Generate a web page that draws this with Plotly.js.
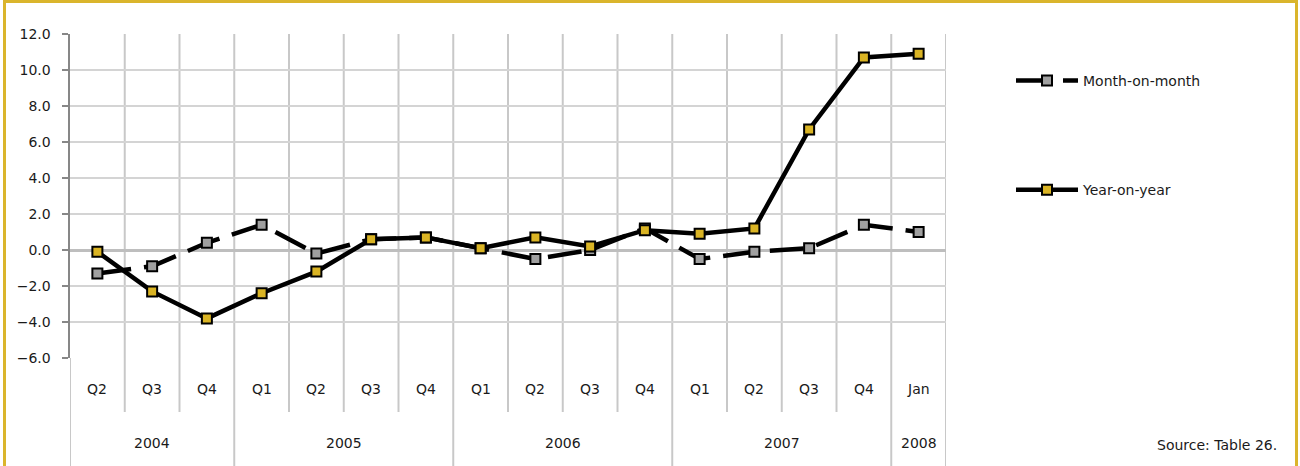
<!DOCTYPE html>
<html>
<head>
<meta charset="utf-8">
<script src="https://cdn.plot.ly/plotly-3.0.1.min.js"></script>
<style>
html,body{margin:0;padding:0;background:#fff;}
#chart{width:1300px;height:466px;}
</style>
</head>
<body>
<div id="chart"></div>
<script>
// ---- data ----
const quarters = ["Q2","Q3","Q4","Q1","Q2","Q3","Q4","Q1","Q2","Q3","Q4","Q1","Q2","Q3","Q4","Jan"];
const years = ["2004","2004","2004","2005","2005","2005","2005","2006","2006","2006","2006","2007","2007","2007","2007","2008"];
const monthOnMonth = [-1.3,-0.9,0.4,1.4,-0.2,0.6,0.7,0.1,-0.5,0.0,1.2,-0.5,-0.1,0.1,1.4,1.0];
const yearOnYear = [-0.1,-2.3,-3.8,-2.4,-1.2,0.6,0.7,0.1,0.7,0.2,1.1,0.9,1.2,6.7,10.7,10.9];
const seriesNames = ["Month-on-month","Year-on-year"];
const sourceText = "Source: Table 26.";

// ---- layout geometry (pixels) ----
const W = 1300, H = 466;
const L = 70, R = 946, T = 34, B = 358;
const pw = R - L, ph = B - T;
const py = p => (B - p) / ph;   // pixel y -> paper y
const px = p => (p - L) / pw;   // pixel x -> paper x

const idx = quarters.map((_, i) => i);
const FONT = "DejaVu Sans, Verdana, sans-serif";
const FS = 14;
const TXT = "#1a1a1a";

const traces = [
  {
    x: idx, y: monthOnMonth, name: seriesNames[0], type: "scatter", mode: "lines+markers",
    legendgroup: "a",
    line: {color: "#000", width: 4.5, dash: "34px,13px"},
    marker: {symbol: "square", size: 10, color: "#A0A0A0", line: {color: "#000", width: 2}},
    hoverinfo: "skip"
  },
  {
    x: idx, y: yearOnYear, name: seriesNames[1], type: "scatter", mode: "lines+markers",
    legendgroup: "b",
    line: {color: "#000", width: 4.5},
    marker: {symbol: "square", size: 10, color: "#DAB424", line: {color: "#000", width: 2}},
    hoverinfo: "skip"
  }
];

// ---- shapes: category dividers & frame ----
const shapes = [];
const gridCol = "#C8C8C8";
const yBottomQ = py(412), yBottomYear = py(470);
for (let i = 0; i <= quarters.length; i++) {
  const xv = i - 0.5;
  const isYearEdge = (i === 0 || i === quarters.length || years[i] !== years[i - 1]);
  if (i > 0) {
    shapes.push({type: "line", xref: "x", yref: "paper", x0: xv, x1: xv, y0: 0, y1: 1,
      line: {color: gridCol, width: 2}, layer: "below"});
  }
  shapes.push({type: "line", xref: "x", yref: "paper", x0: xv, x1: xv, y0: 0,
    y1: isYearEdge ? yBottomYear : yBottomQ, line: {color: gridCol, width: 2}, layer: "below"});
}
// outer golden frame
shapes.push({type: "rect", xref: "paper", yref: "paper",
  x0: px(4.5), x1: px(1296.5), y0: py(1.5), y1: py(480),
  line: {color: "#DAB52C", width: 3}, fillcolor: "rgba(0,0,0,0)", layer: "above"});

// ---- annotations: category labels, year labels, source ----
const annotations = [];
quarters.forEach((q, i) => {
  annotations.push({x: i, y: py(389), xref: "x", yref: "paper", text: q, showarrow: false,
    xanchor: "center", yanchor: "middle", font: {family: FONT, size: FS, color: TXT}});
});
let start = 0;
for (let i = 1; i <= years.length; i++) {
  if (i === years.length || years[i] !== years[start]) {
    annotations.push({x: (start + i - 1) / 2, y: py(443), xref: "x", yref: "paper", text: years[start],
      showarrow: false, xanchor: "center", yanchor: "middle", font: {family: FONT, size: FS, color: TXT}});
    start = i;
  }
}
annotations.push({x: px(1279), y: py(445), xref: "paper", yref: "paper", text: sourceText,
  showarrow: false, xanchor: "right", yanchor: "middle", font: {family: FONT, size: FS, color: TXT}});

const layout = {
  width: W, height: H,
  margin: {l: L, r: W - R, t: T, b: H - B, pad: 0},
  paper_bgcolor: "#fff", plot_bgcolor: "#fff",
  showlegend: true,
  font: {family: FONT, size: FS, color: TXT},
  xaxis: {
    range: [-0.5, quarters.length - 0.5], showgrid: false, zeroline: false,
    showticklabels: false, ticks: "", showline: false, fixedrange: true
  },
  yaxis: {
    range: [-6, 12], dtick: 2, tick0: 0, tickformat: ".1f",
    showgrid: true, gridcolor: "#D4D4D4", gridwidth: 1.5,
    zeroline: true, zerolinecolor: "#BEBEBE", zerolinewidth: 3,
    showline: true, linecolor: "#878787", linewidth: 2.5,
    ticks: "outside", ticklen: 6, tickwidth: 2, tickcolor: "#878787",
    ticklabelstandoff: 8,
    tickfont: {family: FONT, size: FS, color: TXT}, fixedrange: true
  },
  legend: {
    x: px(1011), y: py(65), xanchor: "left", yanchor: "top",
    traceorder: "grouped", tracegroupgap: 88,
    itemwidth: 62, bgcolor: "rgba(0,0,0,0)",
    font: {family: FONT, size: FS, color: TXT}
  },
  shapes: shapes,
  annotations: annotations
};

Plotly.newPlot("chart", traces, layout, {staticPlot: true, displayModeBar: false});
</script>
</body>
</html>
